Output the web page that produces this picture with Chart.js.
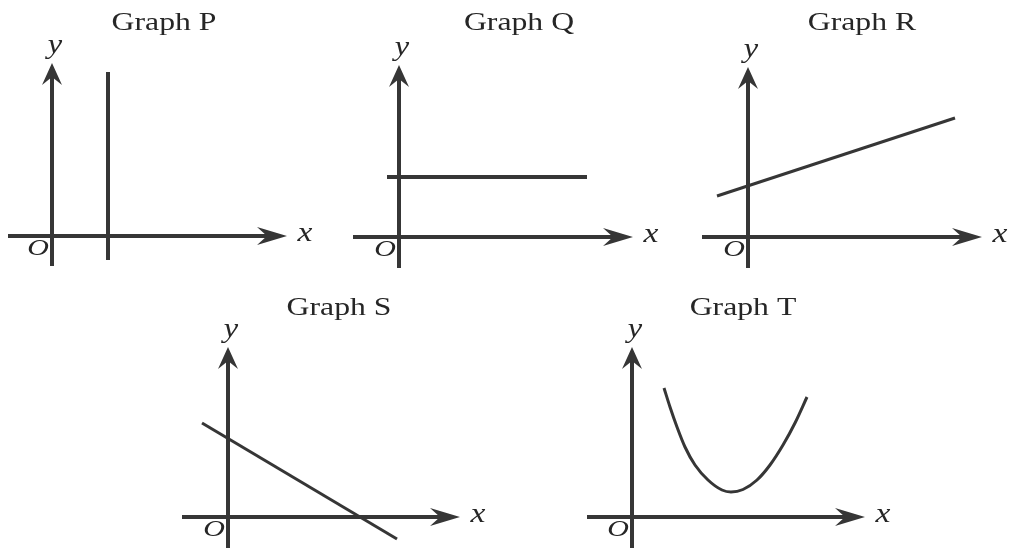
<!DOCTYPE html>
<html><head><meta charset="utf-8">
<script src="https://cdn.jsdelivr.net/npm/chart.js@4.4.1/dist/chart.umd.min.js"></script>
<style>
html,body{margin:0;padding:0;background:#fff;}
body{width:1011px;height:548px;overflow:hidden;position:relative;}
canvas{position:absolute;}
</style></head><body>
<script>
// ---- data (units: 1 unit ~ 10 px on the original) ----
const graphTitles = ['Graph P','Graph Q','Graph R','Graph S','Graph T'];
const axisNames = ['x','y','O'];
const pX = [5.6, 5.6];
const pY = [-2.4, 16.4];
const qX = [-1.2, 18.8];
const qY = [6.0, 6.0];
const rX = [-3.1, 20.7];
const rY = [4.1, 11.9];
const sX = [-2.6, 16.9];
const sY = [9.4, -2.2];
const tX = [3.2, 3.8, 4.5, 5.3, 6.3, 7.6, 9.0, 9.9, 11.1, 12.5, 13.8, 15.1, 16.3, 17.5];
const tY = [12.9, 11.0, 9.0, 7.0, 5.2, 3.7, 2.7, 2.5, 2.75, 3.7, 5.2, 7.2, 9.4, 12.0];
const xAxisExtents = [[-4.4, 23.5], [-4.6, 23.4], [-4.6, 23.4], [-4.6, 23.2], [-4.5, 23.3]];
const yAxisExtents = [[-3.0, 17.3], [-3.1, 17.2], [-3.1, 17.0], [-3.5, 17.0], [-3.5, 17.0]];
const seriesX = [pX, qX, rX, sX, tX];
const seriesY = [pY, qY, rY, sY, tY];

// ---- layout / style ----
const origins = [[52, 236], [399, 237], [748, 237], [228, 517], [632, 517]];
const titleOffsets = [[112, -206], [120, -207], [114, -207], [111, -202], [111, -202]];
const lineWidths = [4, 4, 3, 3, 3];
const view = {xmin: -5.5, xmax: 29, ymin: -4, ymax: 24, ppu: 10};
const ink = '#363636';
const textInk = '#262626';
const serif = '"Liberation Serif", "Times New Roman", serif';

function stretchText(ctx, txt, cx, cy, font, sx, align, baseline) {
  ctx.save();
  ctx.translate(cx, cy);
  ctx.scale(sx, 1);
  ctx.font = font;
  ctx.fillStyle = textInk;
  ctx.textAlign = align;
  ctx.textBaseline = baseline;
  ctx.fillText(txt, 0, 0);
  ctx.restore();
}

const axesPlugin = {
  id: 'mathAxes',
  beforeDatasetsDraw(chart, args, opts) {
    const g = opts.idx;
    const ctx = chart.ctx;
    const xs = chart.scales.x, ys = chart.scales.y;
    const x0 = xs.getPixelForValue(0), y0 = ys.getPixelForValue(0);
    const xl = xs.getPixelForValue(xAxisExtents[g][0]);
    const xr = xs.getPixelForValue(xAxisExtents[g][1]);
    const yb = ys.getPixelForValue(yAxisExtents[g][0]);
    const yt = ys.getPixelForValue(yAxisExtents[g][1]);
    ctx.save();
    ctx.strokeStyle = ink; ctx.fillStyle = ink; ctx.lineWidth = 4; ctx.lineCap = 'butt';
    // x axis + arrowhead
    ctx.beginPath(); ctx.moveTo(xl, y0); ctx.lineTo(xr - 20, y0); ctx.stroke();
    ctx.beginPath(); ctx.moveTo(xr, y0); ctx.lineTo(xr - 30, y0 - 9); ctx.lineTo(xr - 20, y0); ctx.lineTo(xr - 30, y0 + 9); ctx.closePath(); ctx.fill();
    // y axis + arrowhead
    ctx.beginPath(); ctx.moveTo(x0, yb); ctx.lineTo(x0, yt + 14); ctx.stroke();
    ctx.beginPath(); ctx.moveTo(x0, yt); ctx.lineTo(x0 - 10, yt + 22); ctx.lineTo(x0, yt + 14); ctx.lineTo(x0 + 10, yt + 22); ctx.closePath(); ctx.fill();
    ctx.restore();
    // labels
    stretchText(ctx, axisNames[0], xr + 18, y0 + 5, 'italic 28px ' + serif, 1.2, 'center', 'alphabetic');
    stretchText(ctx, axisNames[1], x0 + 3, yt - 10, 'italic 27px ' + serif, 1.2, 'center', 'alphabetic');
    stretchText(ctx, axisNames[2], x0 - 14, y0 + 19, 'italic 24px ' + serif, 1.25, 'center', 'alphabetic');
    // title
    stretchText(ctx, graphTitles[g], x0 + titleOffsets[g][0], y0 + titleOffsets[g][1], '26px ' + serif, 1.22, 'center', 'alphabetic');
  }
};

graphTitles.forEach((title, g) => {
  const cv = document.createElement('canvas');
  const w = (view.xmax - view.xmin) * view.ppu;
  const h = (view.ymax - view.ymin) * view.ppu;
  cv.width = w; cv.height = h;
  cv.style.width = w + 'px'; cv.style.height = h + 'px';
  cv.style.left = (origins[g][0] + view.xmin * view.ppu) + 'px';
  cv.style.top = (origins[g][1] - view.ymax * view.ppu) + 'px';
  document.body.appendChild(cv);
  const pts = seriesX[g].map((x, i) => ({x: x, y: seriesY[g][i]}));
  new Chart(cv, {
    type: 'scatter',
    data: {datasets: [{
      label: title,
      data: pts,
      showLine: true,
      borderColor: ink,
      borderWidth: lineWidths[g],
      pointRadius: 0,
      cubicInterpolationMode: 'monotone',
      borderCapStyle: 'butt',
      borderJoinStyle: 'round',
      fill: false
    }]},
    options: {
      responsive: false,
      animation: false,
      devicePixelRatio: 1,
      layout: {padding: 0},
      plugins: {legend: {display: false}, tooltip: {enabled: false}, title: {display: false}, mathAxes: {idx: g}},
      scales: {
        x: {type: 'linear', display: false, min: view.xmin, max: view.xmax},
        y: {type: 'linear', display: false, min: view.ymin, max: view.ymax}
      }
    },
    plugins: [axesPlugin]
  });
});
</script>
</body></html>
